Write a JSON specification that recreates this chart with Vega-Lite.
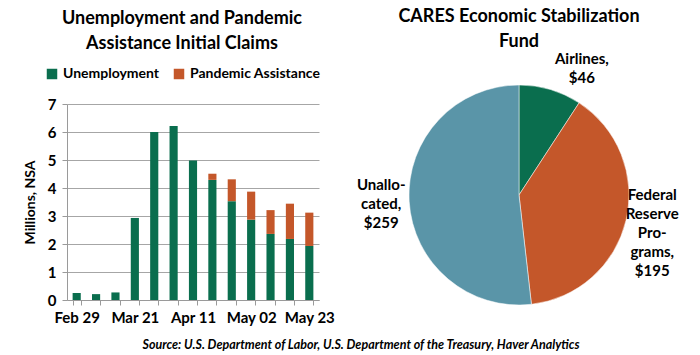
{
  "$schema": "https://vega.github.io/schema/vega-lite/v6.json",
  "background": "white",
  "padding": {"left": 23, "top": 7, "right": 5, "bottom": 5},
  "config": {
    "font": "Lato",
    "view": {"stroke": null},
    "title": {"font": "Lato", "fontWeight": "bold", "color": "black"},
    "axis": {"labelFont": "Lato", "titleFont": "Lato", "labelColor": "black", "titleColor": "black"},
    "legend": {"labelFont": "Lato"}
  },
  "title": {
    "text": "Source: U.S. Department of Labor, U.S. Department of the Treasury, Haver Analytics",
    "orient": "bottom",
    "anchor": "middle",
    "fontSize": 12.5,
    "fontStyle": "italic",
    "fontWeight": "bold",
    "offset": 14,
    "dx": 10
  },
  "spacing": 21,
  "resolve": {"scale": {"color": "independent"}, "legend": {"color": "independent"}},
  "hconcat": [
    {
      "width": 252,
      "height": 196,
      "title": {
        "text": ["Unemployment and Pandemic", "Assistance Initial Claims"],
        "fontSize": 18,
        "lineHeight": 25,
        "anchor": "middle",
        "offset": 14,
        "dx": -11
      },
      "data": {
        "values": [
          {"week": "Feb 29", "series": "Unemployment", "value": 0.25},
          {"week": "Mar 07", "series": "Unemployment", "value": 0.21},
          {"week": "Mar 14", "series": "Unemployment", "value": 0.27},
          {"week": "Mar 21", "series": "Unemployment", "value": 2.93},
          {"week": "Mar 28", "series": "Unemployment", "value": 6.0},
          {"week": "Apr 04", "series": "Unemployment", "value": 6.21},
          {"week": "Apr 11", "series": "Unemployment", "value": 4.98},
          {"week": "Apr 18", "series": "Unemployment", "value": 4.29},
          {"week": "Apr 18", "series": "Pandemic Assistance", "value": 0.22},
          {"week": "Apr 25", "series": "Unemployment", "value": 3.53},
          {"week": "Apr 25", "series": "Pandemic Assistance", "value": 0.78},
          {"week": "May 02", "series": "Unemployment", "value": 2.87},
          {"week": "May 02", "series": "Pandemic Assistance", "value": 1.0},
          {"week": "May 09", "series": "Unemployment", "value": 2.36},
          {"week": "May 09", "series": "Pandemic Assistance", "value": 0.85},
          {"week": "May 16", "series": "Unemployment", "value": 2.18},
          {"week": "May 16", "series": "Pandemic Assistance", "value": 1.26},
          {"week": "May 23", "series": "Unemployment", "value": 1.93},
          {"week": "May 23", "series": "Pandemic Assistance", "value": 1.19}
        ]
      },
      "mark": {"type": "bar"},
      "encoding": {
        "x": {
          "field": "week",
          "type": "ordinal",
          "sort": null,
          "scale": {"paddingInner": 0.58, "paddingOuter": 0.29},
          "axis": {
            "title": null,
            "labelAngle": 0,
            "labelExpr": "indexof(['Feb 29','Mar 21','Apr 11','May 02','May 23'], datum.value) >= 0 ? datum.value : ''",
            "tickBand": "extent",
            "domainColor": "#9a9a9a",
            "tickColor": "#9a9a9a",
            "tickSize": 5,
            "labelFontSize": 15,
            "labelFontWeight": "bold",
            "labelPadding": 5
          }
        },
        "y": {
          "field": "value",
          "type": "quantitative",
          "stack": "zero",
          "scale": {"domain": [0, 7], "nice": false},
          "axis": {
            "values": [0, 1, 2, 3, 4, 5, 6, 7],
            "title": "Millions, NSA",
            "titleFontSize": 14,
            "titleFontWeight": "bold",
            "titlePadding": 10,
            "labelFontSize": 15,
            "labelFontWeight": "bold",
            "labelPadding": 6,
            "grid": true,
            "gridColor": "#a6a6a6",
            "domainColor": "#9a9a9a",
            "tickColor": "#9a9a9a",
            "tickSize": 5
          }
        },
        "color": {
          "field": "series",
          "type": "nominal",
          "sort": ["Unemployment", "Pandemic Assistance"],
          "scale": {
            "domain": ["Unemployment", "Pandemic Assistance"],
            "range": ["#0a6e4e", "#c4572a"]
          },
          "legend": {
            "orient": "none",
            "legendX": -22,
            "legendY": -37,
            "direction": "horizontal",
            "title": null,
            "symbolType": "square",
            "symbolSize": 110,
            "symbolStrokeWidth": 0,
            "symbolOpacity": 1,
            "labelFontSize": 14,
            "labelFontWeight": "bold",
            "labelColor": "black",
            "columnPadding": 12
          }
        }
      }
    },
    {
      "width": 300,
      "height": 182,
      "title": {
        "text": ["CARES Economic Stabilization", "Fund"],
        "fontSize": 18,
        "lineHeight": 25,
        "anchor": "middle",
        "offset": -29
      },
      "data": {
        "values": [
          {"category": "Airlines", "value": 46, "label": "Airlines,\n$46"},
          {"category": "Federal Reserve Programs", "value": 195, "label": "Federal\nReserve\nPro-\ngrams,\n$195"},
          {"category": "Unallocated", "value": 259, "label": "Unallo-\ncated,\n$259"}
        ]
      },
      "encoding": {
        "theta": {"field": "value", "type": "quantitative", "stack": true},
        "color": {
          "field": "category",
          "type": "nominal",
          "scale": {
            "domain": ["Airlines", "Federal Reserve Programs", "Unallocated"],
            "range": ["#0a6e4e", "#c4572a", "#5a95a8"]
          },
          "legend": null
        }
      },
      "layer": [
        {"mark": {"type": "arc", "outerRadius": 110, "stroke": "white", "strokeWidth": 0.5}},
        {
          "mark": {"type": "text", "radius": 140, "lineBreak": "\n", "fontSize": 15, "fontWeight": "bold", "lineHeight": 19, "align": "center", "baseline": "middle", "dx": 23, "dy": -2},
          "encoding": {"text": {"condition": {"test": "datum.category == 'Airlines'", "field": "label"}, "value": ""}, "color": {"value": "black"}}
        },
        {
          "mark": {"type": "text", "radius": 140, "lineBreak": "\n", "fontSize": 15, "fontWeight": "bold", "lineHeight": 19, "align": "center", "baseline": "middle", "dx": -3, "dy": -32},
          "encoding": {"text": {"condition": {"test": "datum.category == 'Federal Reserve Programs'", "field": "label"}, "value": ""}, "color": {"value": "black"}}
        },
        {
          "mark": {"type": "text", "radius": 140, "lineBreak": "\n", "fontSize": 15, "fontWeight": "bold", "lineHeight": 19, "align": "center", "baseline": "middle", "dx": 2, "dy": -18},
          "encoding": {"text": {"condition": {"test": "datum.category == 'Unallocated'", "field": "label"}, "value": ""}, "color": {"value": "black"}}
        }
      ]
    }
  ]
}
